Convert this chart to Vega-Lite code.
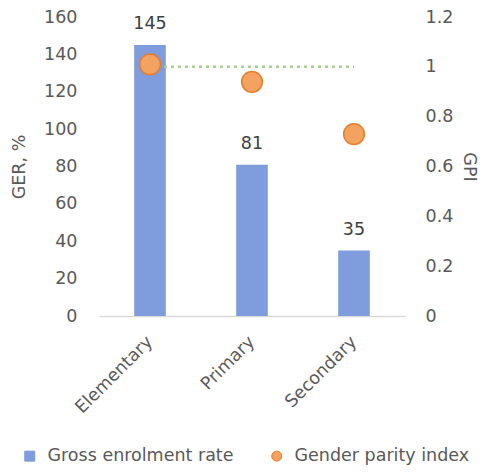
{
  "$schema": "https://vega.github.io/schema/vega-lite/v6.json",
  "width": 306,
  "height": 299,
  "autosize": {"type": "none"},
  "padding": {"left": 99, "top": 17, "right": 76, "bottom": 156},
  "background": "white",
  "config": {
    "font": "DejaVu Sans",
    "view": {"stroke": null},
    "axis": {"labelColor": "#595959", "titleColor": "#595959", "labelFontSize": 17.5, "titleFontSize": 17.5, "titleFontWeight": "normal", "grid": false, "ticks": false}
  },
  "datasets": {
    "ger": [
      {"level": "Elementary", "ger": 145, "series": "Gross enrolment rate"},
      {"level": "Primary", "ger": 81, "series": "Gross enrolment rate"},
      {"level": "Secondary", "ger": 35, "series": "Gross enrolment rate"}
    ],
    "gpi": [
      {"level": "Elementary", "gpi": 1.01, "series": "Gender parity index"},
      {"level": "Primary", "gpi": 0.94, "series": "Gender parity index"},
      {"level": "Secondary", "gpi": 0.73, "series": "Gender parity index"}
    ],
    "parity": [
      {"level": "Elementary", "gpi": 1},
      {"level": "Secondary", "gpi": 1}
    ]
  },
  "resolve": {"scale": {"y": "independent"}},
  "layer": [
    {
      "data": {"name": "ger"},
      "encoding": {
        "x": {
          "field": "level", "type": "nominal", "sort": ["Elementary", "Primary", "Secondary"],
          "scale": {"paddingInner": 0.69, "paddingOuter": 0.345},
          "axis": {"title": null, "labelAngle": -45, "labelBaseline": "middle", "labelAlign": "right", "labelPadding": 23, "domainColor": "#d9d9d9", "domainWidth": 1.5}
        },
        "y": {
          "field": "ger", "type": "quantitative",
          "scale": {"domain": [0, 160]},
          "axis": {"orient": "left", "title": "GER, %", "values": [0, 20, 40, 60, 80, 100, 120, 140, 160], "domain": false, "labelPadding": 22, "titlePadding": 15}
        }
      },
      "layer": [
        {
          "mark": {"type": "bar"},
          "encoding": {
            "color": {
              "field": "series", "type": "nominal",
              "scale": {"domain": ["Gross enrolment rate", "Gender parity index"], "range": ["#7F9CDD", "#F3A25F"]},
              "legend": {
                "title": null, "orient": "none", "legendX": -78, "legendY": 430, "direction": "horizontal",
                "labelFontSize": 17.5, "labelColor": "#595959", "labelLimit": 300, "symbolSize": 100, "columnPadding": 34, "labelOffset": 9,
                "encode": {
                  "symbols": {
                    "update": {
                      "shape": {"signal": "datum.value === 'Gross enrolment rate' ? 'square' : 'circle'"},
                      "stroke": {"signal": "datum.value === 'Gross enrolment rate' ? '#7F9CDD' : '#E67E30'"},
                      "strokeWidth": {"value": 1}
                    }
                  }
                }
              }
            }
          }
        },
        {
          "mark": {"type": "text", "baseline": "alphabetic", "dy": -16, "fontSize": 17.5, "color": "#404040"},
          "encoding": {"text": {"field": "ger", "type": "quantitative"}}
        }
      ]
    },
    {
      "encoding": {
        "x": {"field": "level", "type": "nominal", "sort": ["Elementary", "Primary", "Secondary"]},
        "y": {
          "field": "gpi", "type": "quantitative",
          "scale": {"domain": [0, 1.2]},
          "axis": {"orient": "right", "title": "GPI", "format": "~g", "values": [0, 0.2, 0.4, 0.6, 0.8, 1, 1.2], "domain": false, "labelPadding": 20, "titlePadding": 7}
        }
      },
      "layer": [
        {
          "data": {"name": "parity"},
          "mark": {"type": "line", "color": "#A9D18E", "strokeWidth": 2.5, "strokeDash": [3, 4]}
        },
        {
          "data": {"name": "gpi"},
          "mark": {"type": "circle", "size": 430, "opacity": 1, "stroke": "#E67E30", "strokeWidth": 1.5},
          "encoding": {"color": {"field": "series", "type": "nominal"}}
        }
      ]
    }
  ]
}
